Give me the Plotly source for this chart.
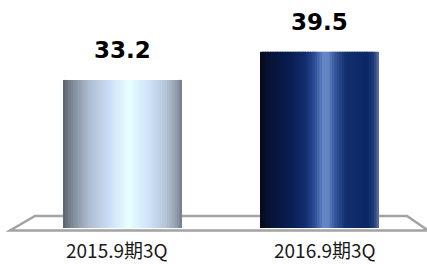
import plotly.graph_objects as go

categories = ["2015.9期3Q", "2016.9期3Q"]
values = [33.2, 39.5]
value_labels = ["33.2", "39.5"]

# gradient stops (position 0..1 across cylinder width, color)
grad_light = [(0.0, "#59636f"), (0.08, "#7f8b99"), (0.22, "#aebdd0"), (0.40, "#cde0f7"),
              (0.55, "#e8ffff"), (0.70, "#d2e6fa"), (0.86, "#b7c7d9"), (0.96, "#8e9bab"), (1.0, "#6f7b89")]
grad_dark = [(0.0, "#050a1e"), (0.08, "#081436"), (0.25, "#0a1d50"), (0.38, "#112d6c"),
             (0.46, "#2d4d95"), (0.53, "#6586c6"), (0.57, "#6687c6"), (0.63, "#36559b"),
             (0.72, "#12306e"), (0.90, "#0b2766"), (0.96, "#223c78"), (1.0, "#6a7aa0")]


def interp(stops, t):
    for (p0, c0), (p1, c1) in zip(stops[:-1], stops[1:]):
        if p0 <= t <= p1:
            f = (t - p0) / (p1 - p0) if p1 > p0 else 0
            a = [int(c0[i:i + 2], 16) for i in (1, 3, 5)]
            b = [int(c1[i:i + 2], 16) for i in (1, 3, 5)]
            r = [round(a[j] + (b[j] - a[j]) * f) for j in range(3)]
            return "rgb(%d,%d,%d)" % tuple(r)
    return stops[-1][1]


xs = list(range(len(categories)))
W = 0.604
N = 48
fig = go.Figure()
for k in range(N):
    t = (k + 0.5) / N
    sw = W / N * (1.0 if k == N - 1 else 1.6)
    fig.add_trace(go.Bar(
        x=xs, y=values, width=[sw] * len(xs), offset=[-W / 2 + k * W / N] * len(xs),
        marker=dict(color=[interp(grad_light, t), interp(grad_dark, t)], line=dict(width=0)),
        hoverinfo="skip", showlegend=False,
    ))

for i, v in enumerate(values):
    fig.add_annotation(x=xs[i], y=v, text=value_labels[i], showarrow=False,
                       yanchor="middle", yshift=30,
                       font=dict(family="DejaVu Sans", size=23, color="#000000", weight="bold"))

label_xshift = [-6, 5]
for i, c in enumerate(categories):
    fig.add_annotation(x=xs[i], y=0, text=c, showarrow=False, yanchor="middle", yshift=-21,
                       xshift=label_xshift[i], borderpad=0,
                       font=dict(family="Noto Sans CJK JP", size=19, color="#1a1a1a"))

# floor plane
def px(xp):
    return xp / 427

def py(yp):
    return (228 - yp) / 228

path = "M %f,%f L %f,%f L %f,%f L %f,%f Z" % (px(35), py(216), px(407), py(216), px(428), py(230.5), px(10), py(230.5))
fig.add_shape(type="path", path=path, xref="paper", yref="paper",
              line=dict(color="#a3a3a3", width=2.5), fillcolor="rgba(255,255,255,0)", layer="below")

fig.update_layout(
    width=427, height=264, margin=dict(l=0, r=0, t=0, b=36, autoexpand=False),
    paper_bgcolor="white", plot_bgcolor="rgba(0,0,0,0)",
    barmode="overlay", showlegend=False,
    xaxis=dict(range=[-122.5 / 197, (427 - 122.5) / 197], showticklabels=False, automargin=False,
               showgrid=False, zeroline=False, showline=False, ticks=""),
    yaxis=dict(range=[0, 228 / 4.46], visible=False, showgrid=False, zeroline=False, automargin=False),
)

fig.write_html("out.html", config={"displayModeBar": False},
               post_script="document.body.style.margin='0';document.body.style.padding='0';document.body.style.overflow='hidden';")
